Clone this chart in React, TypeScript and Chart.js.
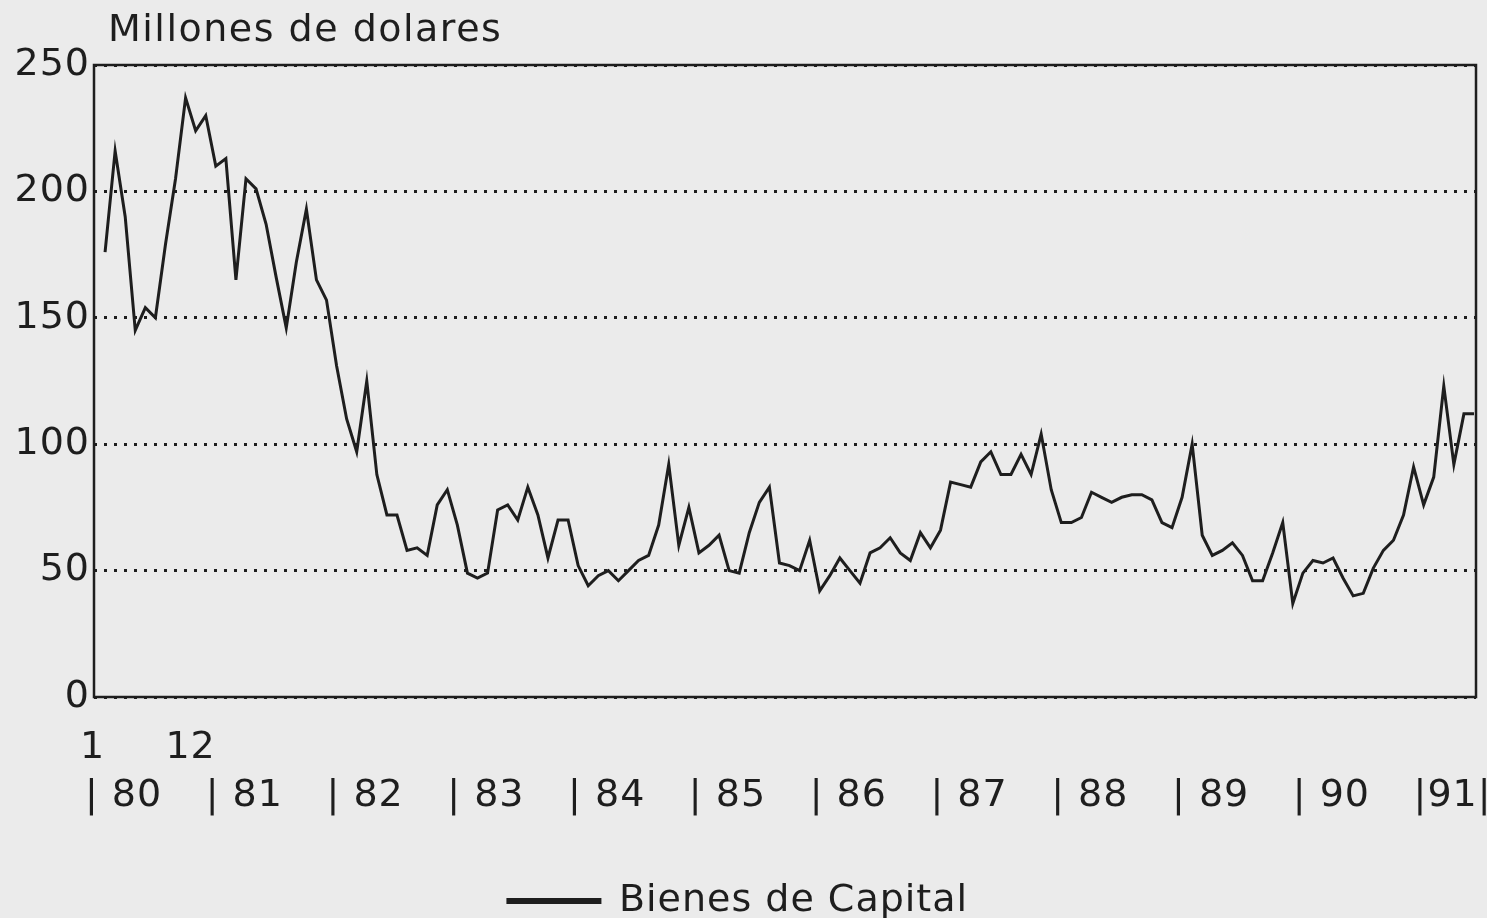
import React, { useEffect, useRef } from "react";
import { Chart, registerables } from "chart.js";

Chart.register(...registerables);

// Monthly imports of capital goods, Jan 1980 - May 1991 (millions of dollars)
const bienesDeCapital: number[] = [
  176, 216, 190, 145, 154, 150, 179, 205, 237, 224, 230, 210,
  213, 165, 205, 201, 187, 166, 146, 172, 193, 165, 157, 131,
  110, 97, 125, 88, 72, 72, 58, 59, 56, 76, 82, 68,
  49, 47, 49, 74, 76, 70, 83, 72, 55, 70, 70, 52,
  44, 48, 50, 46, 50, 54, 56, 68, 92, 60, 75, 57,
  60, 64, 50, 49, 65, 77, 83, 53, 52, 50, 62, 42,
  48, 55, 50, 45, 57, 59, 63, 57, 54, 65, 59, 66,
  85, 84, 83, 93, 97, 88, 88, 96, 88, 104, 82, 69,
  69, 71, 81, 79, 77, 79, 80, 80, 78, 69, 67, 79,
  100, 64, 56, 58, 61, 56, 46, 46, 57, 69, 37, 49,
  54, 53, 55, 47, 40, 41, 51, 58, 62, 72, 91, 76,
  87, 123, 92, 112, 112,
];

const monthIndex: number[] = bienesDeCapital.map((_, i) => i);
const monthTickValues: number[] = [0, 11];
const monthTickLabels: string[] = ["1", "12"];
const yearTickValues: number[] = [-2, 10, 22, 34, 46, 58, 70, 82, 94, 106, 118, 130];
const yearTickLabels: string[] = ["| 80", "| 81", "| 82", "| 83", "| 84", "| 85", "| 86", "| 87", "| 88", "| 89", "| 90", "|91|"];
const yTickValues: number[] = [0, 50, 100, 150, 200, 250];
const titleText = "Millones de dolares";
const seriesLabel = "Bienes de Capital";

const INK = "#1e1e1e";
const FONT = "'DejaVu Sans', sans-serif";
const FS = 38;

export default function App() {
  const ref = useRef<HTMLCanvasElement | null>(null);

  useEffect(() => {
    if (!ref.current) return;

    const spacing = {
      id: "spacing",
      beforeUpdate(chart: any) {
        chart.ctx.letterSpacing = "1px";
      },
      beforeLayout(chart: any) {
        chart.ctx.letterSpacing = "1px";
      },
      beforeDraw(chart: any) {
        chart.ctx.letterSpacing = "1px";
      },
    };

    const frame = {
      id: "frame",
      afterDatasetsDraw(chart: any) {
        const { ctx, chartArea } = chart;
        ctx.save();
        ctx.strokeStyle = INK;
        ctx.lineWidth = 2.5;
        ctx.setLineDash([]);
        ctx.strokeRect(chartArea.left, chartArea.top, chartArea.right - chartArea.left, chartArea.bottom - chartArea.top);
        ctx.fillStyle = INK;
        ctx.font = `${FS}px ${FONT}`;
        ctx.letterSpacing = "1.5px";
        ctx.textAlign = "left";
        ctx.textBaseline = "middle";
        ctx.fillText(titleText, chartArea.left + 14, 31);
        ctx.restore();
      },
    };

    const chart = new Chart(ref.current, {
      type: "line",
      data: {
        labels: monthIndex,
        datasets: [
          {
            label: seriesLabel,
            data: bienesDeCapital.map((v, i) => ({ x: monthIndex[i], y: v })),
            borderColor: INK,
            backgroundColor: INK,
            borderWidth: 3,
            pointRadius: 0,
            tension: 0,
            xAxisID: "x",
            yAxisID: "y",
          },
        ],
      },
      options: {
        responsive: false,
        animation: false,
        layout: { padding: { top: 65, right: 11, left: 0, bottom: -12 } },
        plugins: {
          title: { display: false },
          tooltip: { enabled: false },
          legend: {
            position: "bottom",
            labels: {
              boxWidth: 92,
              boxHeight: 3,
              padding: 0,
              color: INK,
              font: { size: FS, family: FONT },
            },
          },
        },
        scales: {
          x: {
            type: "linear",
            position: "bottom",
            min: -1.1,
            max: 136.2,
            grid: { display: false, drawTicks: false },
            border: { display: false },
            afterBuildTicks: (axis: any) => {
              axis.ticks = monthTickValues.map((v) => ({ value: v }));
            },
            afterFit: (axis: any) => {
              axis.height = 76;
              axis.paddingLeft = 0;
              axis.paddingRight = 0;
            },
            ticks: {
              autoSkip: false,
              maxRotation: 0,
              align: "end",
              padding: 28,
              color: INK,
              font: { size: FS, family: FONT },
              callback: (v: any) => {
                const k = monthTickValues.indexOf(Number(v));
                return k >= 0 ? monthTickLabels[k] : "";
              },
            },
          },
          xYear: {
            type: "linear",
            position: "bottom",
            min: -1.1,
            max: 136.2,
            grid: { display: false, drawTicks: false },
            border: { display: false },
            afterBuildTicks: (axis: any) => {
              axis.ticks = yearTickValues.map((v) => ({ value: v }));
            },
            afterFit: (axis: any) => {
              axis.height = 109;
              axis.paddingLeft = 0;
              axis.paddingRight = 0;
            },
            ticks: {
              autoSkip: false,
              maxRotation: 0,
              align: "start",
              padding: 0,
              color: INK,
              font: { size: FS, family: FONT },
              callback: (v: any) => {
                const k = yearTickValues.indexOf(Number(v));
                return k >= 0 ? yearTickLabels[k] : "";
              },
            },
          },
          y: {
            type: "linear",
            min: 0,
            max: 250,
            afterBuildTicks: (axis: any) => {
              axis.ticks = yTickValues.map((v) => ({ value: v }));
            },
            afterFit: (axis: any) => {
              axis.width = 94;
            },
            grid: {
              color: INK,
              lineWidth: 3,
              drawTicks: false,
            },
            border: { display: false, dash: [3, 7] },
            ticks: {
              padding: 4,
              color: INK,
              font: { size: FS, family: FONT },
            },
          },
        },
      },
      plugins: [spacing, frame],
    } as any);

    return () => chart.destroy();
  }, []);

  return (
    <div style={{ position: "fixed", left: 0, top: 0, width: 1487, height: 918, background: "#ebebeb" }}>
      <canvas ref={ref} width={1487} height={918} style={{ display: "block" }} />
    </div>
  );
}
